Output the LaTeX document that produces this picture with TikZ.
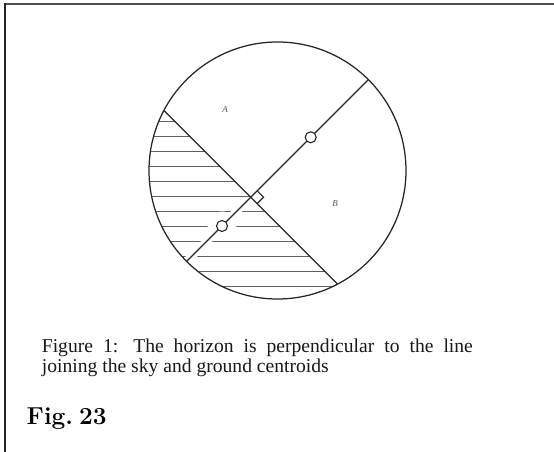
\documentclass[tikz,border=0pt]{standalone}
\usepackage{fontspec}
\newfontfamily\timesfont{Liberation Serif}
\begin{document}
\begin{tikzpicture}[x=1pt,y=-1pt,
  hatch/.style={draw=black!62, line width=1.2pt},
  outline/.style={draw=black!85, line width=1.25pt},
  centroid/.style={circle, draw=black!85, fill=white, line width=1.1pt, minimum size=11pt, inner sep=0pt},
  lbl/.style={font=\timesfont\fontsize{9}{10}\selectfont\itshape, text=black!65, inner sep=0pt},
  captxt/.style={anchor=base west, inner sep=0pt, font=\timesfont\fontsize{19.6}{22}\selectfont, text=black!90},
]
\useasboundingbox (0,0) rectangle (554,452);
\fill[white] (0,0) rectangle (554,452);
% frame
\draw[line width=1.8pt, black!70] (4,3.7) -- (554,3.7);
\draw[line width=2pt, black!85] (5,2.8) -- (5,452);
% geometry
\coordinate (C) at (277.5,170.5);
\coordinate (F) at (250.84,197.16);
\coordinate (H1) at (163.9,110.4);
\coordinate (H2) at (337.6,284.1);
\coordinate (D1) at (368.36,79.64);
\coordinate (D2) at (186.64,261.36);
\coordinate (G1) at (310.7,137.3);
\coordinate (G2) at (222,226);
\coordinate (HS) at (244.8,203.2);
% hatching of the ground segment
\begin{scope}
  \clip (C) circle[radius=128.5pt];
  \clip (50.84,-2.84) -- (450.84,397.16) -- (50.84,397.16) -- cycle;
  \foreach \k in {0,...,11} \draw[hatch] (140,{121.7+15*\k}) -- (360,{121.7+15*\k});
\end{scope}
% gaps in the hatching
\draw[white, line width=8pt] (HS) -- (D2);
\fill[white] (G2) circle[radius=14.5pt];
% outline, horizon, centroid line
\draw[outline] (C) circle[radius=128.5pt];
\draw[outline] (H1) -- (H2);
\draw[outline, line width=1.1pt] (D1) -- (D2);
% right angle marker
\coordinate (P1) at (257.2,190.8);
\coordinate (P2) at (263.57,197.16);
\coordinate (P3) at (257.2,203.52);
\draw[outline, line width=1.1pt] (P1) -- (P2) -- (P3);
% centroids
\node[centroid] (sky) at (G1) {};
\node[centroid] (ground) at (G2) {};
% region labels
\node[lbl] (la) at (225,110) {A};
\node[lbl] (lb) at (335,204) {B};
% caption
\node[captxt] (cap1) at (41.7,352.5) {\hbox to 431pt{Figure\hfill 1:\hfill\hspace{5pt}The\hfill horizon\hfill is\hfill perpendicular\hfill to\hfill the\hfill line}};
\node[captxt] (cap2) at (41.7,372.5) {joining the sky and ground centroids};
\node[anchor=base west, inner sep=0pt, font=\fontsize{24.5}{28}\selectfont\bfseries] (fig) at (26.5,424) {Fig.\hspace{6pt}23};
\end{tikzpicture}
\end{document}
